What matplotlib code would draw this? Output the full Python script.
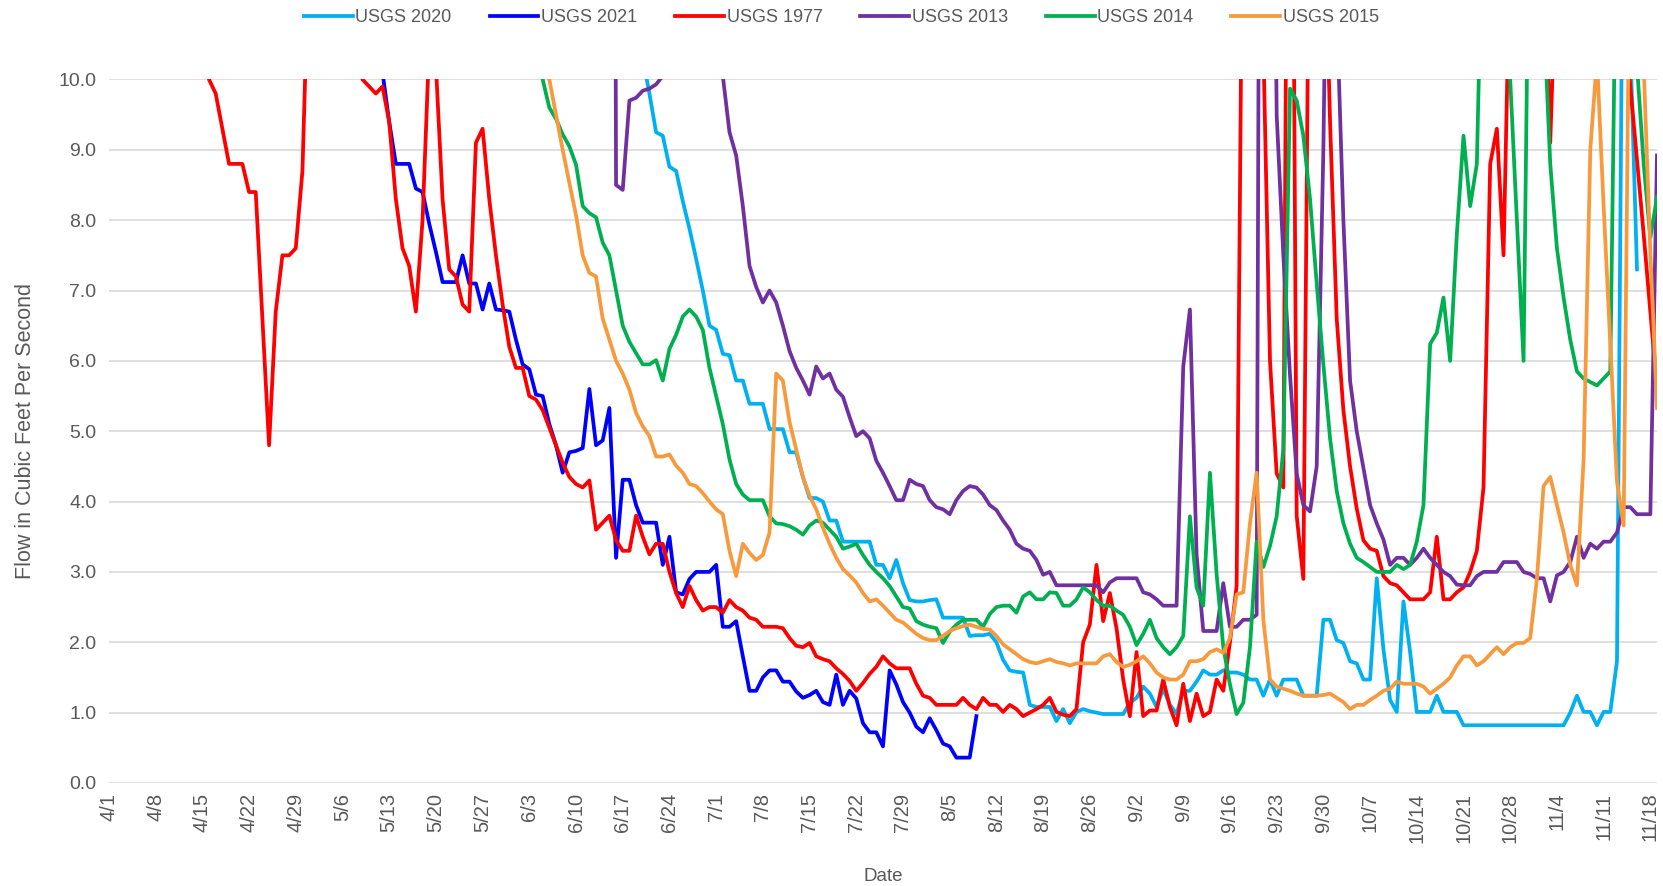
import matplotlib
matplotlib.use('Agg')
import matplotlib.pyplot as plt
import numpy as np
import pandas as pd

plt.rcParams['font.family'] = ['Liberation Sans', 'DejaVu Sans']

# x axis: daily from 4/1, labelled every 7 days
tick_labels = ["4/1", "4/8", "4/15", "4/22", "4/29", "5/6", "5/13", "5/20", "5/27",
               "6/3", "6/10", "6/17", "6/24", "7/1", "7/8", "7/15", "7/22", "7/29",
               "8/5", "8/12", "8/19", "8/26", "9/2", "9/9", "9/16", "9/23", "9/30",
               "10/7", "10/14", "10/21", "10/28", "11/4", "11/11", "11/18"]
last_day = "11/19"

# daily flows (cfs); values above 10 run off the top of the chart
usgs_2020_start = "6/19"
usgs_2020 = [14,
             10.3, 9.8, 9.25, 9.2, 8.76, 8.7, 8.27, 7.88, 7.45, 7.0,
             6.5, 6.44, 6.1, 6.08, 5.72, 5.72, 5.39, 5.39, 5.39, 5.03,
             5.03, 5.03, 4.7, 4.7, 4.35, 4.05, 4.05, 4.0, 3.73, 3.73,
             3.43, 3.43, 3.43, 3.43, 3.43, 3.1, 3.1, 2.91, 3.17, 2.84,
             2.6, 2.58, 2.58, 2.6, 2.61, 2.35, 2.35, 2.35, 2.35, 2.09,
             2.1, 2.1, 2.12, 2.0, 1.75, 1.6, 1.58, 1.57, 1.11, 1.08,
             1.08, 1.08, 0.88, 1.05, 0.85, 1.01, 1.05, 1.02, 1.0, 0.98,
             0.98, 0.98, 0.98, 1.14, 1.21, 1.37, 1.27, 1.08, 1.34, 1.11,
             0.98, 1.31, 1.31, 1.44, 1.6, 1.54, 1.54, 1.6, 1.57, 1.57,
             1.54, 1.47, 1.47, 1.24, 1.47, 1.24, 1.47, 1.47, 1.47, 1.24,
             1.24, 1.24, 2.32, 2.32, 2.03, 1.99, 1.73, 1.7, 1.47, 1.47,
             2.91, 1.9, 1.18, 1.01, 2.58, 1.86, 1.01, 1.01, 1.01, 1.24,
             1.01, 1.01, 1.01, 0.82, 0.82, 0.82, 0.82, 0.82, 0.82, 0.82,
             0.82, 0.82, 0.82, 0.82, 0.82, 0.82, 0.82, 0.82, 0.82, 1.0,
             1.24, 1.01, 1.01, 0.82, 1.01, 1.01, 1.73, 14, 10.5, 7.3]

usgs_2021_start = "5/11"
usgs_2021 = [13, 10.1, 9.4, 8.8, 8.8, 8.8, 8.45, 8.4, 7.95, 7.55,
             7.12, 7.12, 7.12, 7.5, 7.1, 7.1, 6.73, 7.1, 6.73, 6.72,
             6.7, 6.3, 5.95, 5.88, 5.52, 5.5, 5.1, 4.8, 4.41, 4.7,
             4.72, 4.76, 5.6, 4.8, 4.87, 5.33, 3.2, 4.31, 4.31, 3.95,
             3.7, 3.7, 3.7, 3.1, 3.5, 2.71, 2.68, 2.9, 3.0, 3.0,
             3.0, 3.1, 2.22, 2.22, 2.3, 1.8, 1.31, 1.31, 1.5, 1.6,
             1.6, 1.44, 1.44, 1.3, 1.21, 1.25, 1.31, 1.15, 1.11, 1.54,
             1.11, 1.31, 1.2, 0.85, 0.72, 0.72, 0.52, 1.6, 1.4, 1.15,
             1.0, 0.8, 0.72, 0.92, 0.75, 0.56, 0.52, 0.36, 0.36, 0.36, 0.95]

usgs_1977_start = "4/15"
usgs_1977 = [11, 10.0, 9.8, 9.3, 8.8, 8.8,
             8.8, 8.4, 8.4, 6.6, 4.8, 6.7, 7.5, 7.5, 7.6, 8.7,
             12, 13, 14, 13, 12, 12, 11, 10.5, 10.0, 9.9,
             9.8, 9.9, 9.4, 8.3, 7.6, 7.35, 6.7, 8.0, 10.5, 10.2,
             8.3, 7.3, 7.2, 6.8, 6.7, 9.1, 9.3, 8.3, 7.5, 6.8,
             6.2, 5.9, 5.9, 5.5, 5.45, 5.3, 5.05, 4.8, 4.55, 4.35,
             4.25, 4.2, 4.3, 3.6, 3.7, 3.8, 3.45, 3.3, 3.3, 3.8,
             3.5, 3.25, 3.4, 3.4, 3.0, 2.7, 2.5, 2.8, 2.6, 2.45,
             2.5, 2.5, 2.42, 2.6, 2.5, 2.45, 2.35, 2.32, 2.22, 2.22,
             2.22, 2.2, 2.06, 1.95, 1.93, 1.99, 1.8, 1.76, 1.73, 1.63,
             1.55, 1.45, 1.31, 1.42, 1.55, 1.65, 1.8, 1.7, 1.63, 1.63,
             1.63, 1.41, 1.24, 1.21, 1.11, 1.11, 1.11, 1.11, 1.21, 1.11,
             1.05, 1.21, 1.11, 1.11, 1.01, 1.11, 1.05, 0.95, 1.0, 1.05,
             1.11, 1.21, 1.01, 0.97, 0.95, 1.05, 2.0, 2.25, 3.1, 2.3,
             2.7, 2.2, 1.47, 0.95, 1.86, 0.95, 1.03, 1.03, 1.47, 1.08,
             0.82, 1.41, 0.88, 1.27, 0.95, 1.01, 1.47, 1.31, 2.0, 2.8,
             14, 16, 15, 10.5, 6.0, 4.4, 4.2, 20, 3.8, 2.9,
             14, 15, 13, 9.4, 6.6, 5.3, 4.5, 3.9, 3.45, 3.33,
             3.3, 2.94, 2.84, 2.81, 2.71, 2.61, 2.61, 2.61, 2.71, 3.5,
             2.61, 2.61, 2.71, 2.78, 3.0, 3.3, 4.2, 8.8, 9.3, 7.5,
             12, 14, 15, 14, 13, 12, 9.1, 12, 14, 15,
             14, 13, 14, 15, 14, 13, 12, 11, 9.9, 8.86,
             7.8, 6.7, 5.6]

usgs_2013_start = "6/15"
usgs_2013 = [40, 8.5, 8.43, 9.7, 9.74,
             9.84, 9.87, 9.93, 10.05, 12, 14, 15, 15, 14, 13,
             12, 11, 10.05, 9.25, 8.92, 8.2, 7.35, 7.05, 6.83, 7.0,
             6.83, 6.5, 6.14, 5.9, 5.72, 5.52, 5.92, 5.75, 5.82, 5.59,
             5.49, 5.2, 4.93, 5.0, 4.9, 4.58, 4.41, 4.22, 4.02, 4.02,
             4.31, 4.25, 4.22, 4.02, 3.92, 3.89, 3.82, 4.02, 4.15, 4.22,
             4.2, 4.1, 3.95, 3.88, 3.73, 3.6, 3.4, 3.33, 3.3, 3.17,
             2.96, 3.0, 2.81, 2.81, 2.81, 2.81, 2.81, 2.81, 2.81, 2.71,
             2.85, 2.91, 2.91, 2.91, 2.91, 2.71, 2.68, 2.61, 2.52, 2.52,
             2.52, 5.92, 6.73, 3.24, 2.16, 2.16, 2.16, 2.84, 2.22, 2.22,
             2.32, 2.32, 2.39, 30, 20, 9.5, 7.5, 5.8, 4.4, 3.95,
             3.86, 4.5, 9.0, 16, 11, 8.0, 5.72, 5.0, 4.48, 3.95,
             3.69, 3.46, 3.1, 3.2, 3.2, 3.1, 3.2, 3.33, 3.2, 3.1,
             3.0, 2.94, 2.82, 2.81, 2.81, 2.94, 3.0, 3.0, 3.0, 3.14,
             3.14, 3.14, 3.0, 2.97, 2.91, 2.91, 2.58, 2.95, 3.0, 3.14,
             3.5, 3.2, 3.4, 3.33, 3.43, 3.43, 3.56, 3.92, 3.92, 3.82,
             3.82, 3.82, 8.92]

usgs_2014_start = "6/4"
usgs_2014 = [12, 10.0, 9.6, 9.44, 9.22, 9.05,
             8.79, 8.2, 8.1, 8.04, 7.68, 7.5, 7.0, 6.5, 6.27, 6.11,
             5.95, 5.95, 6.01, 5.72, 6.17, 6.37, 6.63, 6.73, 6.63, 6.44,
             5.9, 5.5, 5.1, 4.6, 4.25, 4.1, 4.02, 4.02, 4.02, 3.79,
             3.69, 3.68, 3.65, 3.6, 3.53, 3.66, 3.73, 3.7, 3.6, 3.5,
             3.33, 3.36, 3.4, 3.24, 3.1, 3.0, 2.91, 2.8, 2.65, 2.5,
             2.48, 2.3, 2.25, 2.22, 2.2, 1.99, 2.15, 2.25, 2.32, 2.32,
             2.32, 2.22, 2.4, 2.5, 2.52, 2.52, 2.42, 2.65, 2.71, 2.61,
             2.61, 2.71, 2.7, 2.52, 2.52, 2.61, 2.78, 2.71, 2.6, 2.52,
             2.52, 2.45, 2.39, 2.22, 1.96, 2.12, 2.32, 2.06, 1.93, 1.83,
             1.93, 2.09, 3.79, 2.78, 2.52, 4.41, 2.97, 1.93, 1.4, 0.98,
             1.14, 1.93, 3.43, 3.07, 3.37, 3.79, 4.74, 9.87, 9.7, 9.2,
             8.3, 7.1, 5.95, 4.9, 4.15, 3.69, 3.4, 3.2, 3.14, 3.07,
             3.0, 3.0, 3.0, 3.1, 3.04, 3.1, 3.43, 3.95, 6.24, 6.4,
             6.9, 6.0, 7.8, 9.2, 8.2, 8.8, 13, 14, 13, 12,
             10.0, 8.0, 6.0, 14, 13, 11, 8.8, 7.6, 6.9, 6.3,
             5.85, 5.75, 5.7, 5.65, 5.75, 5.85, 13, 14, 13, 10.2,
             8.8, 7.75, 8.33]

usgs_2015_start = "6/5"
usgs_2015 = [12, 10.0, 9.5, 9.0, 8.53,
             8.07, 7.5, 7.25, 7.2, 6.6, 6.3, 6.0, 5.82, 5.59, 5.26,
             5.07, 4.93, 4.64, 4.64, 4.67, 4.51, 4.41, 4.25, 4.22, 4.12,
             4.0, 3.89, 3.82, 3.3, 2.94, 3.4, 3.27, 3.17, 3.24, 3.56,
             5.82, 5.72, 5.13, 4.74, 4.35, 4.08, 3.89, 3.63, 3.4, 3.2,
             3.04, 2.95, 2.85, 2.7, 2.58, 2.61, 2.52, 2.42, 2.32, 2.28,
             2.2, 2.12, 2.06, 2.03, 2.03, 2.09, 2.16, 2.2, 2.23, 2.25,
             2.22, 2.19, 2.18, 2.09, 1.97, 1.9, 1.83, 1.76, 1.72, 1.7,
             1.73, 1.76, 1.72, 1.7, 1.67, 1.7, 1.7, 1.7, 1.7, 1.8,
             1.83, 1.72, 1.65, 1.68, 1.73, 1.8, 1.7, 1.57, 1.5, 1.47,
             1.47, 1.54, 1.73, 1.73, 1.76, 1.86, 1.9, 1.85, 2.06, 2.68,
             2.71, 3.69, 4.41, 2.32, 1.47, 1.37, 1.34, 1.31, 1.27, 1.24,
             1.24, 1.24, 1.25, 1.27, 1.21, 1.15, 1.05, 1.11, 1.11, 1.18,
             1.24, 1.31, 1.34, 1.44, 1.41, 1.41, 1.41, 1.37, 1.27, 1.34,
             1.41, 1.5, 1.67, 1.8, 1.8, 1.67, 1.73, 1.83, 1.93, 1.83,
             1.93, 1.99, 1.99, 2.06, 2.9, 4.22, 4.35, 3.95, 3.56, 3.1,
             2.81, 4.6, 9.0, 10.3, 8.2, 6.24, 4.28, 3.66, 13, 14,
             10.2, 7.55, 5.33]

series = [
    ("USGS 2020", usgs_2020_start, usgs_2020, "#00B0F0"),
    ("USGS 2021", usgs_2021_start, usgs_2021, "#0000FF"),
    ("USGS 1977", usgs_1977_start, usgs_1977, "#FF0000"),
    ("USGS 2013", usgs_2013_start, usgs_2013, "#7030A0"),
    ("USGS 2014", usgs_2014_start, usgs_2014, "#00B050"),
    ("USGS 2015", usgs_2015_start, usgs_2015, "#F79A3E"),
]


def day_of(md):
    m, d = md.split("/")
    return (pd.Timestamp(2021, int(m), int(d)) - pd.Timestamp(2021, 4, 1)).days


text_col = "#595959"

fig = plt.figure(figsize=(16.63, 8.86), dpi=100)
ax = fig.add_axes([0.0655, 0.1163, 0.9309, 0.794])

for name, start, vals, col in series:
    x = day_of(start) + np.arange(len(vals))
    ax.plot(x, vals, color=col, lw=2.7, label=name, solid_joinstyle="round")

ax.set_ylim(0, 10)
ax.set_xlim(0, day_of(last_day))
ax.set_yticks(np.arange(0, 11, 1))
ax.set_yticklabels([f"{v:.1f}" for v in np.arange(0, 11, 1)])
ax.set_xticks([day_of(t) for t in tick_labels])
ax.set_xticklabels(tick_labels, rotation=90)
ax.tick_params(length=0, colors=text_col)
ax.tick_params(axis="y", pad=9, labelsize=14)
ax.tick_params(axis="x", pad=7, labelsize=14.5)
ax.yaxis.grid(True, color="#d9d9d9", lw=1.2)
ax.set_axisbelow(True)
for s in ax.spines.values():
    s.set_visible(False)

ax.set_ylabel("Flow in Cubic Feet Per Second", fontsize=15.5, color=text_col, labelpad=16)
ax.set_xlabel("Date", fontsize=13.5, color=text_col, labelpad=18)

fig.legend(loc="center", bbox_to_anchor=(0.506, 0.98), ncol=6, frameon=False,
           fontsize=13, handlelength=2.7, handletextpad=0.15, columnspacing=2.1,
           labelcolor=text_col)

plt.savefig("out.png", dpi=100)
plt.close()
